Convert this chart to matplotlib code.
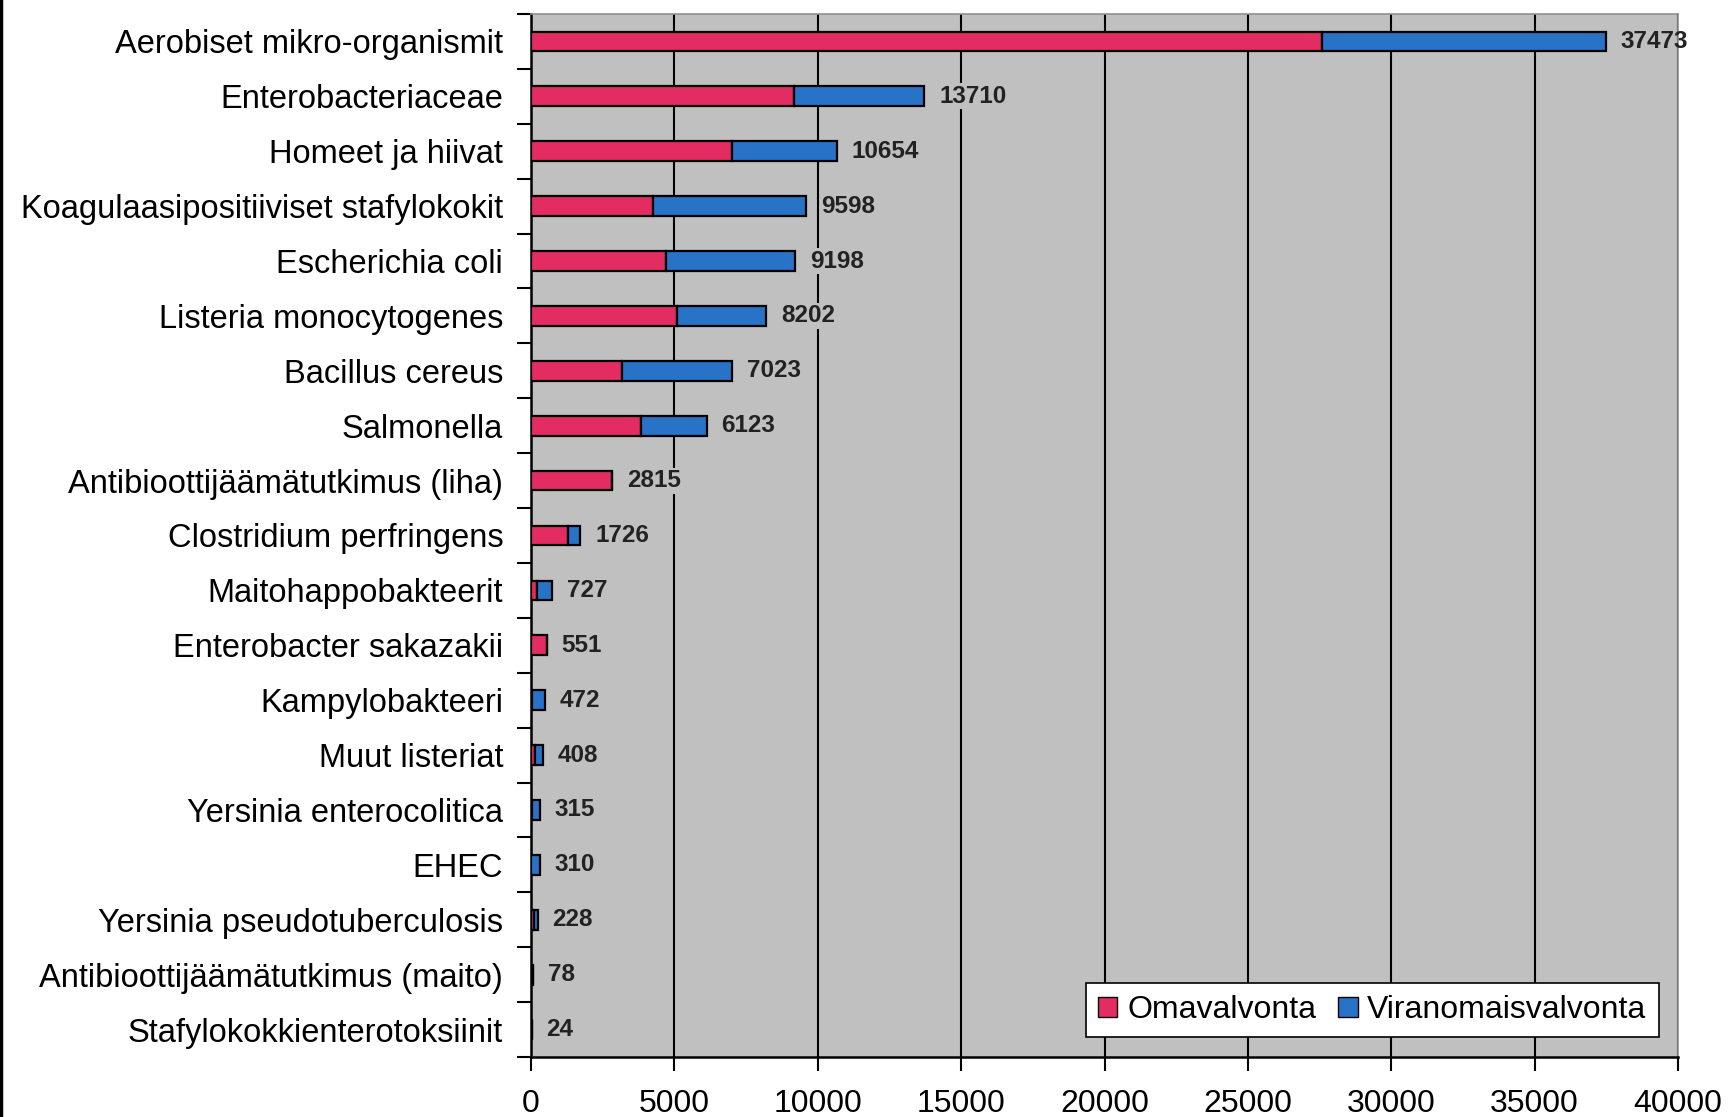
import numpy as np
import matplotlib
matplotlib.use("Agg")
import matplotlib.pyplot as plt
from matplotlib.patches import Patch
from matplotlib.lines import Line2D

plt.rcParams['font.family'] = ['Liberation Sans', 'DejaVu Sans']

# categories top to bottom
categories = [
    'Aerobiset mikro-organismit', 'Enterobacteriaceae', 'Homeet ja hiivat',
    'Koagulaasipositiiviset stafylokokit', 'Escherichia coli',
    'Listeria monocytogenes', 'Bacillus cereus', 'Salmonella',
    'Antibioottijäämätutkimus (liha)', 'Clostridium perfringens',
    'Maitohappobakteerit', 'Enterobacter sakazakii', 'Kampylobakteeri',
    'Muut listeriat', 'Yersinia enterocolitica', 'EHEC',
    'Yersinia pseudotuberculosis', 'Antibioottijäämätutkimus (maito)',
    'Stafylokokkienterotoksiinit',
]
totals = [37473, 13710, 10654, 9598, 9198, 8202, 7023, 6123, 2815, 1726,
          727, 551, 472, 408, 315, 310, 228, 78, 24]
omavalvonta = [27600, 9180, 7020, 4270, 4700, 5080, 3190, 3830, 2815, 1300,
               220, 551, 20, 140, 30, 0, 110, 78, 24]
viranomaisvalvonta = [t - o for t, o in zip(totals, omavalvonta)]

pink = '#E22C62'
blue = '#2872C8'

fig = plt.figure(figsize=(17.31, 11.17), dpi=100)
ax = fig.add_axes([531 / 1731, 1 - 1057 / 1117, 1147 / 1731, 1043 / 1117])
ax.set_facecolor('#C0C0C0')

y = np.arange(len(categories))
h = 0.36
ax.barh(y, omavalvonta, height=h, color=pink, edgecolor='black', linewidth=1.6, zorder=3)
ax.barh(y, viranomaisvalvonta, left=omavalvonta, height=h, color=blue,
        edgecolor='black', linewidth=1.6, zorder=3)

# value labels; grey box hides the gridline behind the number
for yi, t in zip(y, totals):
    box = dict(facecolor='#C0C0C0', edgecolor='none', pad=1) if t < 35000 else None
    ax.text(t + 520, yi, str(t), va='center', ha='left', fontsize=17.5, fontweight='bold',
            color='#222222', zorder=4, bbox=box)

ax.set_xlim(0, 40000)
ax.set_ylim(len(categories) - 0.5, -0.5)
ax.set_xticks(np.arange(0, 40001, 5000))
ax.tick_params(axis='x', labelsize=23, length=10, width=1.5, direction='out', pad=13)
ax.grid(axis='x', color='black', linewidth=1.5, zorder=1)
ax.set_axisbelow(True)

# category labels between boundary ticks
ax.set_yticks(np.arange(-0.5, len(categories), 1))
ax.set_yticklabels([])
ax.set_yticks(y, minor=True)
ax.set_yticklabels(categories, minor=True, fontsize=23.5)
ax.tick_params(axis='y', which='major', length=10, width=1.5, direction='out')
ax.tick_params(axis='y', which='minor', length=0, pad=20)

for s in ['left', 'bottom']:
    ax.spines[s].set_linewidth(1.8)
    ax.spines[s].set_color('black')
for s in ['top', 'right']:
    ax.spines[s].set_linewidth(1.2)
    ax.spines[s].set_color('#909090')

handles = [Patch(facecolor=pink, edgecolor='black', label='Omavalvonta'),
           Patch(facecolor=blue, edgecolor='black', label='Viranomaisvalvonta')]
leg = ax.legend(handles=handles, loc='lower right', bbox_to_anchor=(0.983, 0.019), ncol=2,
                fontsize=23, frameon=True, fancybox=False, framealpha=1,
                edgecolor='black', handlelength=0.6, handleheight=0.6,
                handletextpad=0.3, columnspacing=0.7, borderpad=0.38,
                borderaxespad=0)
leg.get_frame().set_linewidth(1.2)

# left border of the picture
fig.add_artist(Line2D([0.0008, 0.0008], [0, 1], color='black', linewidth=2.5,
                      transform=fig.transFigure))

fig.savefig('out.png', dpi=100, facecolor='white')
